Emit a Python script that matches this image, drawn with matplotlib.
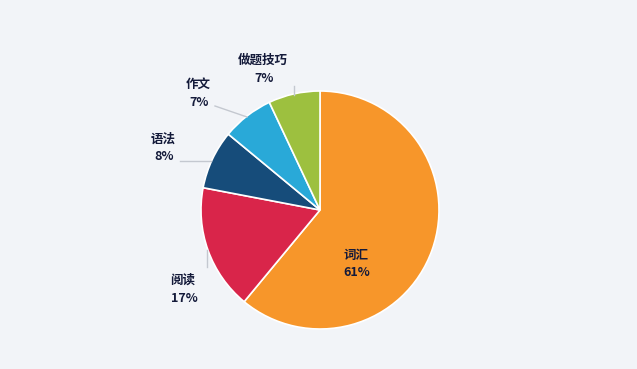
import numpy as np
import matplotlib
matplotlib.use('Agg')
import matplotlib.pyplot as plt

plt.rcParams['font.family'] = ['Noto Sans CJK SC', 'DejaVu Sans']

# data
labels = ['词汇', '阅读', '语法', '作文', '做题技巧']
values = [61, 17, 8, 7, 7]
colors = ['#F7962A', '#D9254A', '#164C7A', '#29A9D8', '#9DC03F']

W, H = 637, 369
bg = '#F2F4F8'
txt = '#141a3a'

fig = plt.figure(figsize=(W / 100, H / 100), dpi=100)
fig.patch.set_facecolor(bg)
ax = fig.add_axes([0, 0, 1, 1])
ax.set_facecolor(bg)

cx, cy, r = 320, H - 210, 119
ax.pie(values, colors=colors, center=(cx, cy), radius=r, startangle=90,
       counterclock=False, wedgeprops=dict(edgecolor='white', linewidth=1.2),
       frame=True)
ax.set_xlim(0, W)
ax.set_ylim(0, H)
ax.set_aspect('equal')
ax.axis('off')

# label layout in pixel coords (top-left origin): text centre, leader line start/end
label_pos = [(356, 255), (183, 280), (163, 139), (198, 84), (263, 60)]
line_start = [None, (207, 250), (211, 161), (247, 117), (294, 95)]
line_end = [None, (207, 267), (180, 161), (215, 106), (294, 86)]

total = sum(values)
for i, (name, v) in enumerate(zip(labels, values)):
    if line_end[i] is not None:
        (sx, sy), (lx, ly) = line_start[i], line_end[i]
        ax.plot([sx, lx], [H - sy, H - ly], color='#C4C8D0', linewidth=1, zorder=1)
    tx, ty = label_pos[i]
    ax.text(tx, H - ty, name, ha='center', va='center', fontsize=9,
            fontweight='bold', color=txt)
    ax.text(tx + 1, H - ty - 18, '%d%%' % round(v / total * 100), ha='center',
            va='center', fontsize=9, fontweight='bold', color=txt)

fig.savefig('out.png', dpi=100, facecolor=bg)
